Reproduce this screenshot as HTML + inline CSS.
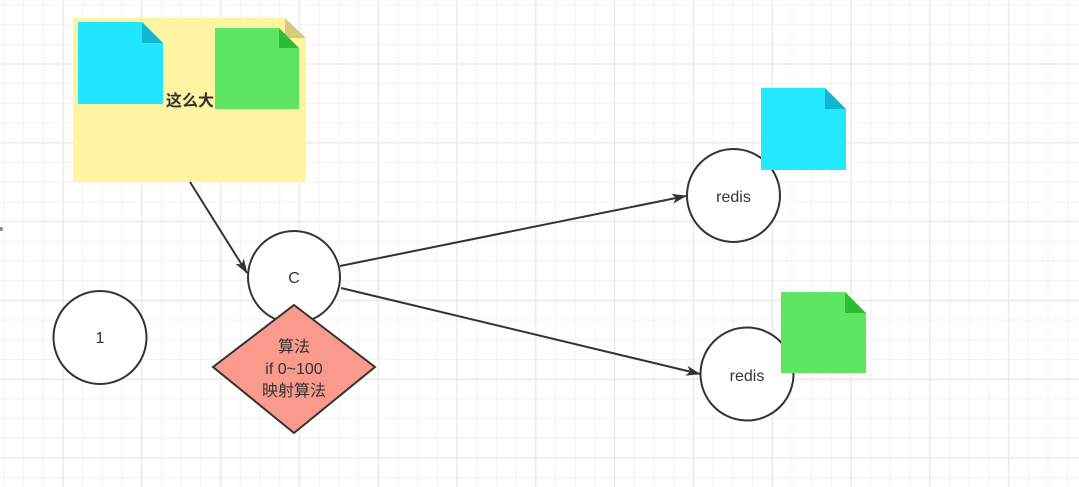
<!DOCTYPE html>
<html><head><meta charset="utf-8"><style>
html,body{margin:0;padding:0;background:#fff;}
svg{display:block;}
text{font-family:"Liberation Sans","Noto Sans CJK SC",sans-serif;fill:#333;}
</style></head><body>
<svg width="1079" height="487" viewBox="0 0 1079 487" xmlns="http://www.w3.org/2000/svg">
<defs>
<pattern id="mn" width="19.7" height="19.7" patternUnits="userSpaceOnUse" x="-5.95" y="-4.95">
<path d="M9.85,0 V19.7 M0,9.85 H19.7" stroke="#f2f2f2" stroke-width="1" fill="none"/>
</pattern>
<pattern id="mj" width="78.8" height="78.8" patternUnits="userSpaceOnUse" x="23.6" y="24.6">
<path d="M39.4,0 V78.8 M0,39.4 H78.8" stroke="#e8e8e8" stroke-width="1.3" fill="none"/>
</pattern>
<marker id="ar" viewBox="0 0 15 11" refX="14" refY="5.5" markerWidth="15" markerHeight="11" markerUnits="userSpaceOnUse" orient="auto">
<path d="M0,0.5 L15,5.5 L0,10.5 L4,5.5 Z" fill="#333"/>
</marker>
</defs>
<rect width="1079" height="487" fill="#fff"/>
<rect width="1079" height="487" fill="url(#mn)"/>
<rect width="1079" height="487" fill="url(#mj)"/>

<circle cx="1" cy="229" r="2" fill="#888"/>

<!-- note -->
<path d="M73,18 L285,18 L306,38 L306,182 L73,182 Z" fill="#fff4a2"/>
<path d="M285,18 L285,38 L306,38 Z" fill="#d6ca7c"/>
<!-- cyan doc in note -->
<path d="M78,22 L142,22 L163,43 L163,104 L78,104 Z" fill="#22e6ff"/>
<path d="M142,22 L142,43 L163,43 Z" fill="#12b6d0"/>
<!-- green doc in note -->
<path d="M215,28 L279,28 L299,48 L299,109 L215,109 Z" fill="#5ee663"/>
<path d="M279,28 L279,48 L299,48 Z" fill="#2dbd33"/>
<text x="190" y="106" font-size="16" font-weight="bold" text-anchor="middle">这么大</text>

<!-- arrows -->
<line x1="190" y1="182" x2="247" y2="273" stroke="#333" stroke-width="2" marker-end="url(#ar)"/>
<line x1="340" y1="266" x2="686" y2="196" stroke="#333" stroke-width="2" marker-end="url(#ar)"/>
<line x1="341" y1="288" x2="700" y2="374" stroke="#333" stroke-width="2" marker-end="url(#ar)"/>

<!-- circle C -->
<circle cx="294" cy="277" r="46" fill="#fff" stroke="#333" stroke-width="2"/>
<text x="294" y="283" font-size="16" text-anchor="middle">C</text>

<!-- diamond -->
<path d="M294,305 L375,367 L294,433 L213,367 Z" fill="#f99a8d" stroke="#333" stroke-width="2"/>
<text x="294" y="352" font-size="16" text-anchor="middle">算法</text>
<text x="294" y="374" font-size="16" text-anchor="middle">if 0~100</text>
<text x="294" y="396" font-size="16" text-anchor="middle">映射算法</text>

<!-- circle 1 -->
<circle cx="100" cy="337.5" r="46.5" fill="#fff" stroke="#333" stroke-width="2"/>
<text x="100" y="343" font-size="16" text-anchor="middle">1</text>

<!-- redis top -->
<circle cx="733.5" cy="195.5" r="46.5" fill="#fff" stroke="#333" stroke-width="2"/>
<text x="733.5" y="202" font-size="16" text-anchor="middle">redis</text>
<path d="M761,88 L825,88 L846,109 L846,170 L761,170 Z" fill="#22e9ff"/>
<path d="M825,88 L825,109 L846,109 Z" fill="#12b6d0"/>

<!-- redis bottom -->
<circle cx="747" cy="374" r="46.5" fill="#fff" stroke="#333" stroke-width="2"/>
<text x="747" y="381" font-size="16" text-anchor="middle">redis</text>
<path d="M781,292 L845,292 L866,313 L866,373 L781,373 Z" fill="#5ee663"/>
<path d="M845,292 L845,313 L866,313 Z" fill="#2dbd33"/>
</svg>
</body></html>
